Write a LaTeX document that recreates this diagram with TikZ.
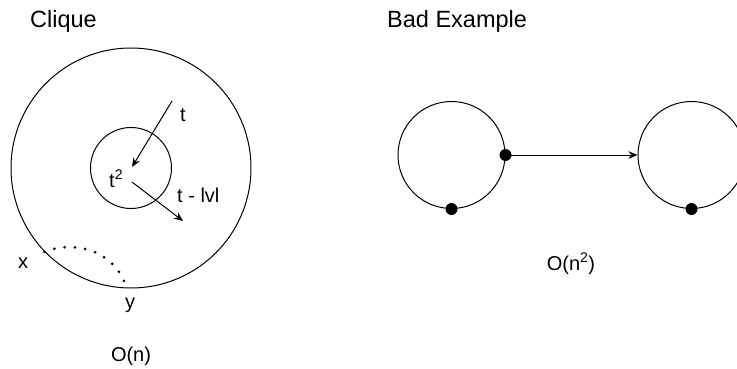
\documentclass[tikz,border=0pt]{standalone}
\usepackage{fontspec}
\setmainfont{Liberation Sans}
\usetikzlibrary{arrows.meta}
\begin{document}
\begin{tikzpicture}[x=1pt,y=-1pt,
  ring/.style={draw,circle,line width=1pt,inner sep=0pt},
  dot/.style={circle,fill=black,inner sep=0pt,minimum size=12pt},
  lbl/.style={font=\fontsize{20}{24}\selectfont,inner sep=0pt},
  ttl/.style={font=\fontsize{23.5}{28}\selectfont,inner sep=0pt},
  arr/.style={-{Stealth[length=9pt,width=7.5pt]},line width=1pt}]
\useasboundingbox (0,0) rectangle (737,369);
% left part
\node[ttl,anchor=base west] (clique) at (30,28) {Clique};
\node[ring,minimum size=240pt] (big) at (131,168) {};
\node[ring,minimum size=81pt] (small) at (131,168) {};
\coordinate (ts) at (172,101);
\coordinate (te) at (132,167);
\draw[arr] (ts) -- (te);
\node[lbl] (t) at (183,115) {t};
\node[lbl,anchor=base west] (t2) at (109,187) {t\textsuperscript{2}};
\coordinate (ls) at (132,182);
\coordinate (le) at (183,221);
\draw[arr] (ls) -- (le);
\node[lbl,anchor=west] (tlvl) at (177,195.5) {t - lvl};
\coordinate (xp) at (big.224);
\coordinate (yp) at (big.268);
\draw[line width=3pt,line cap=round,dash pattern=on 0pt off 10.4pt] (xp) .. controls (75,240) and (115,250) .. (yp);
\node[lbl,anchor=base] (x) at (23,268) {x};
\node[lbl,anchor=base] (y) at (130,308) {y};
\node[lbl,anchor=base] (on) at (131,361) {O(n)};
% right part
\node[ttl,anchor=base west] (bad) at (387,28) {Bad Example};
\node[ring,minimum size=107pt] (c1) at (451.5,155) {};
\node[ring,minimum size=107pt] (c2) at (691.5,155) {};
\node[dot] (d1) at (c1.east) {};
\node[dot] (d2) at (c1.south) {};
\node[dot] (d3) at (c2.south) {};
\draw[arr] (d1.center) -- (c2.west);
\node[lbl,anchor=base] (on2) at (571,270) {O(n\textsuperscript{2})};
\end{tikzpicture}
\end{document}
